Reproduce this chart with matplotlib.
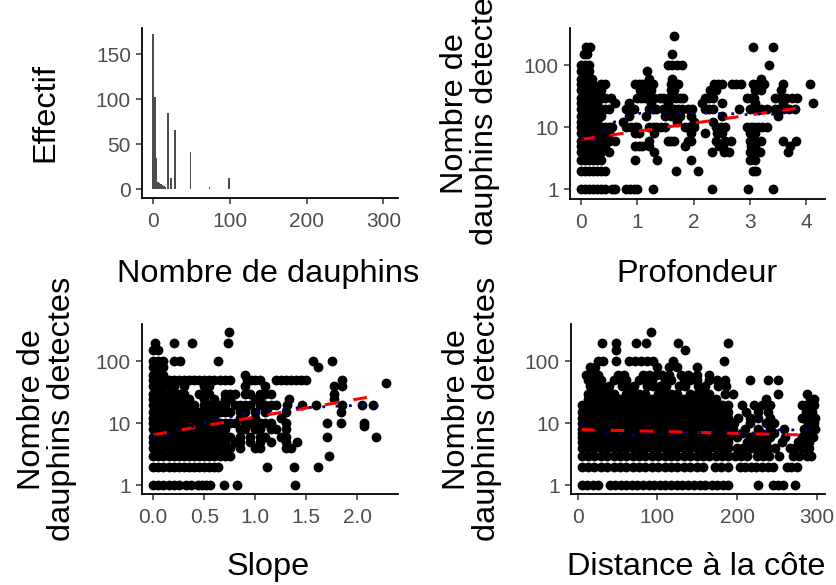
import numpy as np
import matplotlib
matplotlib.use("Agg")
import matplotlib.pyplot as plt

plt.rcParams['font.family'] = ['Liberation Sans', 'DejaVu Sans']

# ---- data ----
# histogram of dolphin counts: bar centres and counts
hist_x = [0, 2, 4, 6, 8, 10, 12, 14, 16, 18.7, 23, 27.8, 48.6, 73.3, 99]
hist_n = [172, 102, 35, 8, 7, 6, 5, 4, 3, 85, 12, 66, 41, 2, 12]

# depth panel: (count, depths)
prof_rows = [
    (1, [0, .07, .14, .21, .28, .35, .42, .55, .6, .8, .87, .94, 1.0, 1.28, 2.33, 2.97, 3.41]),
    (2, [0, .07, .14, .21, .28, .35, .42, 1.69, 2.08, 3.05, 3.12]),
    (3, [0, .07, .14, .21, .28, .35, .95, 1.35, 1.95, 3.0, 3.1]),
    (4, [0, .07, .14, .21, .28, .35, .5, 1.3, 2.33, 2.55, 2.63, 3.0, 3.08, 3.18, 3.68]),
    (5, [0, .07, .14, .21, .28, .35, .42, .95, 1.02, 1.08, 1.2, 1.85, 2.45, 2.52, 3.02, 3.1, 3.72]),
    (6, [0, .07, .14, .21, .28, .35, .42, .5, .6, 1.2, 1.55, 1.6, 1.66, 1.9, 1.96, 2.4, 2.56,
         2.66, 3.0, 3.1, 3.2, 3.6, 3.82]),
    (8, [0, .07, .14, .21, .28, .35, .42, .5, .95, 1.02, 1.3, 1.95, 2.2, 2.42, 2.5, 3.0, 3.1]),
    (10, [0, .07, .14, .21, .28, .35, .42, .5, .55, .8, .88, .95, 1.0, 1.2, 1.27, 1.34, 1.42, 1.5,
          1.85, 1.92, 2.0, 2.4, 2.48, 2.56, 2.95, 3.02, 3.08, 3.15, 3.22, 3.3]),
    (12, [0, .07, .14, .21, .28, .75, 1.7, 2.0, 2.35]),
    (15, [0, .07, .14, .21, .28, .35, .85, 1.15, 1.5, 1.6, 1.75, 1.95, 2.5, 3.5]),
    (20, [0, .07, .14, .21, .28, .35, .42, .5, .8, .87, .94, 1.2, 1.27, 1.34, 1.45, 1.52, 1.6,
          1.66, 1.72, 1.8, 1.9, 1.97, 2.2, 2.27, 2.34, 2.8, 3.0, 3.07, 3.14, 3.2, 3.3, 3.45, 3.52,
          3.6, 3.7, 3.8]),
    (25, [0, .07, .14, .21, .28, .6, .85, 1.25, 1.55, 2.15, 2.5, 3.1, 3.6, 4.12]),
    (30, [0, .07, .14, .21, .28, .35, .42, .53, 1.0, 1.07, 1.14, 1.2, 1.3, 1.4, 1.46, 1.55, 1.62,
          1.68, 1.75, 1.82, 2.2, 2.27, 2.34, 2.95, 3.02, 3.08, 3.45, 3.55, 3.65, 3.75, 3.85]),
    (40, [0, .07, .14, .21, .28, .35, 1.05, 1.12, 1.25, 1.6, 1.66, 2.3, 2.4, 3.1, 3.2, 3.55]),
    (50, [0, .07, .14, .2, .36, .42, .95, 1.02, 1.08, 1.14, 1.22, 1.28, 1.6, 1.66, 1.72, 2.36,
          2.43, 2.5, 2.68, 2.75, 2.85, 3.05, 3.15, 3.25, 3.6, 4.08]),
    (60, [0, .07, .14, .2, 1.2, 1.62, 3.2]),
    (80, [0, .07, .14, 1.17]),
    (100, [0, .07, .14, 1.55, 1.62, 1.7, 1.8, 3.35]),
    (150, [.05, .1, 1.62]),
    (200, [.08, .15, 3.05, 3.42]),
    (300, [1.65]),
]
prof_fit_x = [0, 4.1]
prof_fit_y = [6.4, 22]
prof_smooth_x = [0, 0.24, 0.39, 0.59, 0.8, 1.0, 1.22, 1.48, 1.72, 1.96, 2.2, 2.46, 2.73, 2.97,
                 3.2, 3.47, 3.68, 4.1]
prof_smooth_y = [6.6, 6.0, 8.6, 12.2, 14.7, 16.6, 18, 17.7, 17.2, 17.2, 17.2, 16.6, 16.6, 16,
                 16.6, 16.2, 17.7, 23.5]

# slope panel
slope_rows = [
    (1, [0, .05, .1, .15, .2, .25, .32, .37, .44, .48, .52, .56, .69, .82, 1.39]),
    (2, [0, .05, .1, .15, .2, .25, .3, .35, .4, .45, .5, .55, .6, .64, 1.12, 1.38, 1.62]),
    (3, [0, .05, .1, .15, .2, .25, .3, .35, .4, .45, .5, .55, .6, .65, .7, .75, 1.72]),
    (4, [0, .05, .1, .15, .2, .25, .3, .35, .4, .45, .5, .55, .6, .65, .7, .75, .85, 1.0, 1.05,
         1.3, 1.35]),
    (5, [0, .05, .1, .15, .2, .25, .3, .35, .4, .45, .5, .55, .6, .65, .7, .8, .85, .95, 1.05,
         1.15, 1.3, 1.41]),
    (6, [0, .05, .1, .15, .2, .25, .3, .35, .4, .45, .5, .55, .6, .65, .7, .75, .85, .95, 1.05,
         1.1, 1.25, 1.3, 1.7, 2.18]),
    (8, [0, .05, .1, .15, .2, .25, .3, .35, .4, .45, .5, .55, .6, .65, .7, .85, .9, 1.0, 1.05,
         1.15, 1.2, 1.3]),
    (9, [2.07]),
    (10, [0, .05, .1, .15, .2, .25, .3, .35, .4, .45, .5, .55, .6, .65, .7, .75, .8, .9, .95, 1.0,
          1.05, 1.1, 1.15, 1.3, 1.7, 1.84, 2.07]),
    (12, [0, .05, .1, .15, .2, .25, .3, .35, .4, .45, .5, .55, .6, .85, 1.0, 1.25]),
    (15, [0, .05, .1, .15, .2, .25, .3, .35, .4, .45, .5, .55, .6, .65, .7, .75, .85, .9, 1.0,
          1.1, 1.3, 1.84]),
    (20, [0, .05, .1, .15, .2, .25, .3, .35, .4, .5, .55, .6, .65, .7, .8, .85, .9, .95, 1.05,
          1.1, 1.15, 1.2, 1.31, 1.46, 1.6, 1.85, 2.05, 2.15]),
    (25, [0, .05, .1, .15, .2, .25, .3, .35, .5, .6, .7, .75, 1.0, 1.05, 1.33, 1.77]),
    (30, [0, .05, .1, .15, .2, .25, .3, .45, .5, .55, .7, .75, .8, .9, .95, 1.05, 1.1, 1.15,
          1.77]),
    (40, [0, .05, .1, .15, .2, .3, .5, .55, .9, 1.1, 1.77, 1.85]),
    (45, [2.28]),
    (50, [0, .05, .1, .15, .2, .25, .3, .35, .4, .45, .5, .55, .6, .65, .7, .75, .92, .96, 1.0,
          1.05, 1.2, 1.25, 1.3, 1.35, 1.4, 1.45, 1.5, 1.85]),
    (60, [0, .05, .1, .9]),
    (80, [0, .05, .1, 1.62]),
    (100, [0, .05, .1, .2, .26, .64, 1.57, 1.75]),
    (150, [0, .05]),
    (200, [.02, .2, .38, .73]),
    (300, [.74]),
]
slope_fit_x = [0, 2.2]
slope_fit_y = [6.5, 28]
slope_smooth_x = [0, 0.1, 0.21, 0.44, 0.56, 0.7, 0.84, 0.93, 1.05, 1.18, 1.31, 1.44, 1.57,
                  1.72, 1.85, 1.99, 2.13, 2.28]
slope_smooth_y = [6.3, 5.9, 6.9, 9.4, 11, 12, 13.7, 14.5, 15.5, 16, 16.8, 18, 18, 18.6, 19,
                  19.3, 19.3, 19]

# distance-to-coast panel
dist_dense = [5, 13, 21, 29, 37, 45, 53, 61, 69, 77, 85, 93, 101, 109, 117, 125, 133, 141,
              149, 157, 165, 173, 181, 189]
dist_rows = [
    (1, [5, 12, 19, 26, 40, 47, 54, 61, 68, 75, 82, 89, 96, 103, 110, 117, 124, 131, 138, 146,
         153, 159, 168, 175, 182, 189, 226, 245, 251, 257, 272]),
    (2, [5, 13, 21, 29, 37, 45, 53, 61, 69, 77, 85, 93, 101, 109, 117, 125, 133, 141, 149, 157,
         172, 180, 188, 203, 210, 217, 224, 231, 238, 245, 262, 268, 275]),
    (3, dist_dense + [197, 205, 212, 225, 232, 240, 252, 270, 277, 287, 293]),
    (4, dist_dense + [200, 207, 217, 224, 231, 238, 247, 266, 273, 283, 290]),
    (5, dist_dense + [212, 219, 226, 236, 256, 276, 283, 290]),
    (6, dist_dense + [200, 216, 222, 231, 241, 260, 281, 288, 295]),
    (7, dist_dense + [206, 230, 246, 285, 292]),
    (8, dist_dense + [195, 210, 226, 241, 258, 284, 291, 297]),
    (10, dist_dense + [196, 216, 236, 246, 289, 296]),
    (12, dist_dense + [201, 216, 226, 241, 281, 291, 297]),
    (15, dist_dense + [211, 226, 238, 286, 294]),
    (20, dist_dense + [206, 221, 231, 241, 281, 288, 296]),
    (25, [13, 21, 29, 37, 45, 53, 61, 69, 77, 85, 93, 101, 109, 117, 125, 133, 141, 149, 157,
          165, 173, 236, 291, 296]),
    (30, [13, 21, 29, 37, 45, 61, 69, 77, 85, 101, 109, 117, 125, 141, 149, 157, 165, 185, 195,
          251, 288]),
    (40, [15, 23, 31, 39, 55, 63, 71, 87, 95, 103, 111, 127, 135, 151, 159, 176, 186]),
    (50, [13, 21, 29, 45, 53, 61, 77, 85, 93, 109, 117, 133, 141, 149, 165, 175, 185, 216, 239,
          251]),
    (60, [10, 18, 26, 50, 58, 82, 90, 98, 106, 114, 130, 138, 150, 165]),
    (80, [15, 22, 100, 115, 125, 150]),
    (100, [25, 32, 48, 65, 72, 80, 87, 95, 120, 183]),
    (150, [48, 134]),
    (200, [31, 48, 73, 86, 126, 189]),
    (300, [92]),
]
dist_fit_x = [5, 296]
dist_fit_y = [7.9, 6.4]
dist_smooth_x = [4, 21, 34, 48, 64, 82, 98, 115, 130, 147, 163, 180, 197, 216, 232, 250, 268,
                 286, 296]
dist_smooth_y = [10, 8.3, 7.3, 6.7, 6.3, 6.7, 6.9, 6.3, 6.9, 7.0, 7.2, 7.5, 7.3, 6.9, 7.3,
                 7.8, 7.8, 7.8, 7.8]

# ---- figure ----
W, H = 836, 585
fig = plt.figure(figsize=(W / 100, H / 100), dpi=100)

TICK_COL = '#4d4d4d'
TITLE_FS = 23.4
TICK_FS = 15


def add_panel(left, top, right, bottom):
    ax = fig.add_axes([left / W, 1 - bottom / H, (right - left) / W, (bottom - top) / H])
    for s in ('top', 'right'):
        ax.spines[s].set_visible(False)
    for s in ('left', 'bottom'):
        ax.spines[s].set_linewidth(1.3)
    ax.tick_params(length=4, width=1.1, color='#333333', labelsize=TICK_FS,
                   labelcolor=TICK_COL)
    ax.tick_params(axis='x', pad=6)
    ax.tick_params(axis='y', pad=4)
    ax.minorticks_off()
    return ax


def xlabel(text, cx, base_y):
    fig.text(cx / W, 1 - base_y / H, text, fontsize=TITLE_FS, ha='center', va='baseline')


def ylabel(text, cx, cy):
    fig.text(cx / W, 1 - cy / H, text, fontsize=TITLE_FS, ha='center', va='center',
             rotation=90, multialignment='center', linespacing=1.0)


def scatter_panel(ax, rows, fit_x, fit_y, sm_x, sm_y):
    xs, ys = [], []
    for yv, xl in rows:
        xs += list(xl)
        ys += [yv] * len(xl)
    ax.scatter(xs, ys, s=50, color='black', linewidths=0, zorder=2)
    ax.plot(fit_x, fit_y, color='red', lw=2.2, dashes=(4.5, 5), zorder=3)
    ax.plot(sm_x, sm_y, color='navy', lw=2, dashes=(1, 3.8), zorder=4)
    ax.set_yscale('log')
    ax.set_yticks([1, 10, 100])
    ax.set_yticklabels(['1', '10', '100'])
    ax.minorticks_off()


# histogram
ax1 = add_panel(142, 28, 398, 198)
ax1.bar(hist_x, hist_n, width=2.4, color='#4d4d4d', linewidth=0)
ax1.set_xlim(-14.7, 319)
ax1.set_ylim(-9.7, 179.2)
ax1.set_xticks([0, 100, 200, 300])
ax1.set_yticks([0, 50, 100, 150])
xlabel('Nombre de dauphins', 268, 282)
ylabel('Effectif', 45, 113)

# depth
ax2 = add_panel(570, 28, 825, 199)
scatter_panel(ax2, prof_rows, prof_fit_x, prof_fit_y, prof_smooth_x, prof_smooth_y)
ax2.set_xlim(-0.2, 4.34)
ax2.set_ylim(0.70, 400)
ax2.set_xticks([0, 1, 2, 3, 4])
xlabel('Profondeur', 697, 282)
ylabel('Nombre de\ndauphins detectes', 470, 113)

# slope
ax3 = add_panel(142, 324, 398, 494)
scatter_panel(ax3, slope_rows, slope_fit_x, slope_fit_y, slope_smooth_x, slope_smooth_y)
ax3.set_xlim(-0.11, 2.40)
ax3.set_ylim(0.72, 400)
ax3.set_xticks([0, 0.5, 1.0, 1.5, 2.0])
ax3.set_xticklabels(['0.0', '0.5', '1.0', '1.5', '2.0'])
xlabel('Slope', 268, 575)
ylabel('Nombre de\ndauphins detectes', 47, 409)

# distance to coast
ax4 = add_panel(571, 324, 825, 494)
scatter_panel(ax4, dist_rows, dist_fit_x, dist_fit_y, dist_smooth_x, dist_smooth_y)
ax4.set_xlim(-8.3, 310)
ax4.set_ylim(0.72, 400)
ax4.set_xticks([0, 100, 200, 300])
xlabel('Distance à la côte', 696, 575)
ylabel('Nombre de\ndauphins detectes', 472, 409)

fig.savefig('out.png', dpi=100)
